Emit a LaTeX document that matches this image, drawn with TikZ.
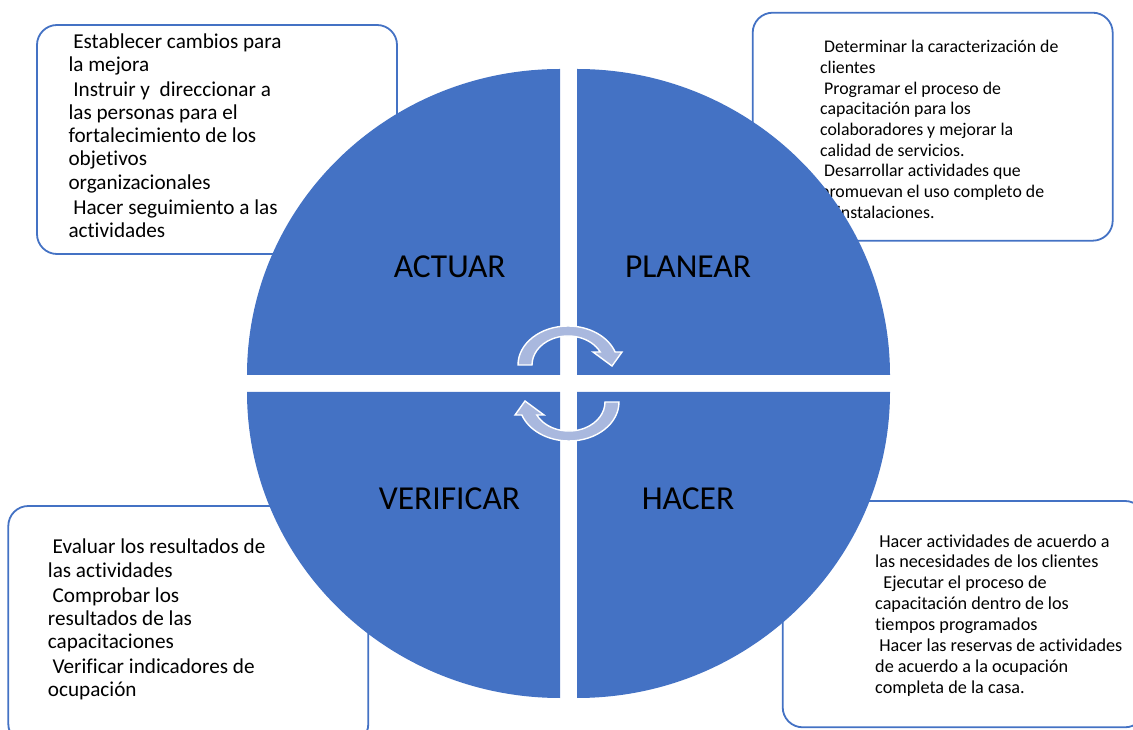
\documentclass[tikz,border=0pt]{standalone}
\usepackage{fontspec}
\setmainfont{Carlito}[Ligatures=NoCommon]
\usepackage{tikz}
\definecolor{azul}{RGB}{68,114,196}
\definecolor{flecha}{RGB}{169,184,222}
\tikzstyle{cuadro} = [draw=azul, line width=1.8pt, fill=white, rounded corners=20pt]
\tikzstyle{cuarto} = [fill=azul]
\tikzstyle{etapa} = [inner sep=0pt, anchor=base, text=black, font=\fontsize{33.5}{40}\selectfont]
\tikzstyle{nota} = [inner sep=0pt, anchor=base west, align=left, text=black]
\tikzstyle{giro} = [fill=flecha, draw=white, line width=1.4pt]

\begin{document}
\begin{tikzpicture}[x=1pt, y=1pt]
    \useasboundingbox (0,0) rectangle (1133,729);

    \draw [cuadro] (37,475) rectangle (397,704);
    \draw [cuadro] (752.7,488.3) rectangle (1112.7,716.3);
    \draw [cuadro] (8.3,-15) rectangle (368.3,223);
    \draw [cuadro] (782.7,1.7) rectangle (1145,228);

    \node [nota, font=\fontsize{21.2}{23.2}\selectfont]		(txt-actuar)	at (68.3,491.7)	{~Establecer cambios para\\la mejora\\[1.8pt]~Instruir y~ direccionar a\\las personas para el\\fortalecimiento de los\\objetivos\\organizacionales\\[1.8pt]~Hacer seguimiento a las\\actividades};
    \node [nota, font=\fontsize{17.8}{20.7}\selectfont]		(txt-planear)	at (820,510.7)	{~Determinar la caracterización de\\clientes\\~Programar el proceso de\\capacitación para los\\colaboradores y mejorar la\\calidad de servicios.\\~Desarrollar actividades que\\promuevan el uso completo de\\la instalaciones.};
    \node [nota, font=\fontsize{21.2}{23.2}\selectfont]		(txt-verificar)	at (47.7,32.3)	{~Evaluar los resultados de\\las actividades\\[1.8pt]~Comprobar los\\resultados de las\\capacitaciones\\[1.8pt]~Verificar indicadores de\\ocupación};
    \node [nota, font=\fontsize{18.2}{20.9}\selectfont]		(txt-hacer)		at (875,35.7)	{~Hacer actividades de acuerdo a\\las necesidades de los clientes\\~~Ejecutar el proceso de\\capacitación dentro de los\\tiempos programados\\~Hacer las reservas de actividades\\de acuerdo a la ocupación\\completa de la casa.};

    \fill [cuarto] (560,354) -- (247,354) arc[start angle=180, end angle=90, x radius=313, y radius=306] -- cycle;
    \fill [cuarto] (577,354) -- (577,660) arc[start angle=90, end angle=0, x radius=313, y radius=306] -- cycle;
    \fill [cuarto] (560,337) -- (247,337) arc[start angle=180, end angle=270, x radius=313, y radius=306] -- cycle;
    \fill [cuarto] (577,337) -- (890,337) arc[start angle=0, end angle=-90, x radius=313, y radius=306] -- cycle;

    \node [etapa]	(actuar)	at (449.7,451.7)	{ACTUAR};
    \node [etapa]	(planear)	at (688,451.7)		{PLANEAR};
    \node [etapa]	(verificar)	at (449.5,219.7)	{VERIFICAR};
    \node [etapa]	(hacer)		at (688,219.7)		{HACER};

    \filldraw [giro] (518,364) arc[start angle=180, end angle=19.5, x radius=50, y radius=39] -- (622,377) -- (612,363) -- (593,377) -- (600.2,377) arc[start angle=26.6, end angle=180, x radius=36, y radius=29] -- cycle;
    \filldraw [giro, rotate around={180:(568.5,345.5)}] (518,364) arc[start angle=180, end angle=19.5, x radius=50, y radius=39] -- (622,377) -- (612,363) -- (593,377) -- (600.2,377) arc[start angle=26.6, end angle=180, x radius=36, y radius=29] -- cycle;
\end{tikzpicture}
\end{document}
